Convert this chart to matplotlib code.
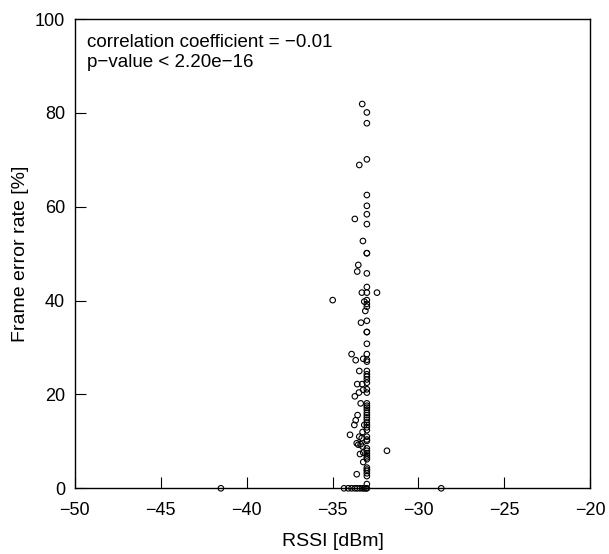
import matplotlib
matplotlib.use("Agg")
import matplotlib.pyplot as plt

plt.rcParams['font.family'] = ['Liberation Sans', 'DejaVu Sans']

# x = -33 column (main cluster)
col_y = [80.1, 77.8, 70.1, 62.5, 60.2, 58.4, 56.3, 50.1, 50.1, 45.8, 42.9, 41.7,
         40.1, 39.3, 38.7, 35.7, 33.3, 33.3, 30.8, 28.6, 27.4, 27.0, 25.0, 24.3,
         23.8, 23.2, 22.5, 21.1, 20.4, 18.1, 17.6, 17.2, 16.7, 16.1, 15.6, 15.1,
         14.6, 14.0, 13.5, 13.0, 12.4, 11.0, 10.4, 10.1, 8.5, 8.0, 7.5, 7.0, 6.6,
         6.2, 4.4, 4.0, 3.7, 3.2, 2.6, 0.9, 0.0]
col_x = [-33.0] * len(col_y)

# scattered points
other_x = [-33.27, -33.44, -33.70, -33.23, -33.50, -33.56, -33.29, -32.41, -34.99,
           -33.15, -33.09, -33.34, -33.89, -33.65, -33.21, -33.44, -33.56, -33.27,
           -33.21, -33.46, -33.70, -33.36, -33.54, -33.65, -33.73, -33.15, -33.25,
           -33.98, -33.44, -33.30, -33.59, -33.50, -33.36, -33.25, -33.21, -33.40,
           -31.83, -33.21, -33.59,
           -41.50, -34.33, -34.08, -33.89, -33.70, -33.56, -33.40, -33.25, -33.15,
           -33.05, -28.67]
other_y = [81.9, 68.9, 57.4, 52.7, 47.6, 46.2, 41.7, 41.7, 40.1,
           39.8, 37.8, 35.3, 28.6, 27.3, 27.6, 25.0, 22.2, 22.2,
           21.0, 20.4, 19.6, 18.1, 15.6, 14.5, 13.5, 13.5, 12.0,
           11.4, 11.0, 10.7, 9.6, 9.3, 9.4, 8.9, 7.6, 7.3,
           8.0, 5.6, 3.0,
           0.0, 0.0, 0.0, 0.0, 0.0, 0.0, 0.0, 0.0, 0.0,
           0.0, 0.0]

rssi = col_x + other_x
fer = col_y + other_y

x_ticks = [-50, -45, -40, -35, -30, -25, -20]
y_ticks = [0, 20, 40, 60, 80, 100]

fig = plt.figure(figsize=(6.09, 5.54), dpi=100)
ax = fig.add_axes([0.123, 0.1186, 0.846, 0.847])
ax.scatter(rssi, fer, s=16, facecolors='none', edgecolors='black',
           linewidths=0.8, clip_on=False, zorder=3)
ax.set_xlim(-50, -20)
ax.set_ylim(0, 100)
ax.set_xticks(x_ticks)
ax.set_yticks(y_ticks)
ax.set_xticklabels([str(t).replace('-', '\u2212') for t in x_ticks])
ax.set_yticklabels([str(t) for t in y_ticks])
ax.tick_params(direction='in', length=8, width=0.8, labelsize=13, colors='black')
ax.tick_params(axis='x', pad=10)
ax.tick_params(axis='y', pad=7)
for sp in ax.spines.values():
    sp.set_linewidth(1.0)
    sp.set_color('black')
ax.set_xlabel('RSSI [dBm]', fontsize=14, labelpad=10)
ax.set_ylabel('Frame error rate [%]', fontsize=14, labelpad=4)
ax.text(0.0235, 0.968, 'correlation coefficient = \u22120.01\np\u2212value < 2.20e\u221216',
        transform=ax.transAxes, ha='left', va='top', fontsize=13.5, linespacing=1.2)

fig.savefig('out.png', dpi=100)
